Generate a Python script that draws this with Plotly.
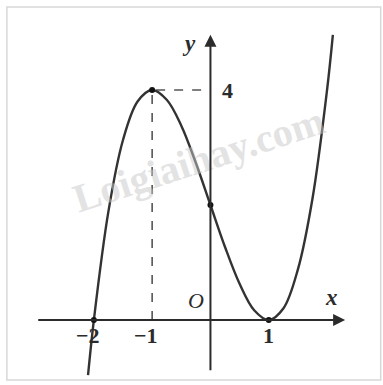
import plotly.graph_objects as go

# points (cubic through (-2,0), (-1,4), (0,2), (1,0))
curve_x = [-2.1, -2.0, -1.75, -1.5, -1.25, -1.0, -0.75, -0.5, -0.25, 0.0,
           0.25, 0.5, 0.75, 1.0, 1.25, 1.5, 1.75, 2.0, 2.1]
curve_y = [-0.96, 0.0, 1.89, 3.13, 3.8, 4.0, 3.83, 3.38, 2.73, 2.0,
           1.27, 0.63, 0.17, 0.0, 0.2, 0.88, 2.11, 4.0, 4.96]

# marked points
dot_x = [-2, -1, 0, 1]
dot_y = [0, 4, 2, 0]

# tick labels on the x axis
tick_vals = [-2, -1, 1]
tick_text = ["\u22122", "\u22121", "1"]

ink = "#2b2b2b"
serif = "Liberation Serif"

fig = go.Figure()

# dashed guides from the maximum
fig.add_trace(go.Scatter(x=[-1, -1, 0], y=[0, 4, 4], mode="lines",
                         line=dict(color="#555", width=1.6, dash="dash"),
                         hoverinfo="skip"))

fig.add_trace(go.Scatter(x=curve_x, y=curve_y, mode="lines",
                         line=dict(color="#333", width=2.4, shape="spline"),
                         hoverinfo="skip"))

fig.add_trace(go.Scatter(x=dot_x, y=dot_y, mode="markers",
                         marker=dict(color="#111", size=6), hoverinfo="skip"))

# watermark
fig.add_annotation(x=-0.2, y=2.8, text="<b>Loigiaihay.com</b>", showarrow=False,
                   textangle=-18, opacity=0.5,
                   font=dict(family=serif, size=40, color="#c8c8c8"))

# axes drawn as arrows
fig.add_annotation(x=2.31, y=0, ax=-2.98, ay=0, xref="x", yref="y",
                   axref="x", ayref="y", text="", showarrow=True,
                   arrowhead=2, arrowsize=1.2, arrowwidth=2, arrowcolor=ink)
fig.add_annotation(x=0, y=4.96, ax=0, ay=-0.9, xref="x", yref="y",
                   axref="x", ayref="y", text="", showarrow=True,
                   arrowhead=2, arrowsize=1.2, arrowwidth=2, arrowcolor=ink)

for v, t in zip(tick_vals, tick_text):
    fig.add_annotation(x=v, y=-0.27, text="<b>%s</b>" % t, showarrow=False,
                       xanchor="right" if v < 0 else "center",
                       xshift=8 if v < 0 else 0,
                       font=dict(family=serif, size=22, color=ink))

fig.add_annotation(x=0.3, y=4.0, text="<b>4</b>", showarrow=False,
                   font=dict(family=serif, size=22, color=ink))
fig.add_annotation(x=-0.24, y=0.34, text="<i>O</i>", showarrow=False,
                   font=dict(family=serif, size=22, color=ink))
fig.add_annotation(x=-0.36, y=4.8, text="<b><i>y</i></b>", showarrow=False,
                   font=dict(family=serif, size=23, color=ink))
fig.add_annotation(x=2.08, y=0.39, text="<b><i>x</i></b>", showarrow=False,
                   font=dict(family=serif, size=23, color=ink))

# frame
fig.add_shape(type="rect", xref="paper", yref="paper", x0=0.018, x1=0.994,
              y0=0.013, y1=0.982, line=dict(color="#d8d8d8", width=1.5), layer="below")

fig.update_xaxes(range=[-3.61, 2.96], visible=False)
fig.update_yaxes(range=[-1.13, 5.565], visible=False)
fig.update_layout(width=383, height=385, margin=dict(l=0, r=0, t=0, b=0),
                  showlegend=False, plot_bgcolor="white", paper_bgcolor="white")

fig.write_html("out.html", config={"displayModeBar": False},
               post_script="document.body.style.margin='0';")
